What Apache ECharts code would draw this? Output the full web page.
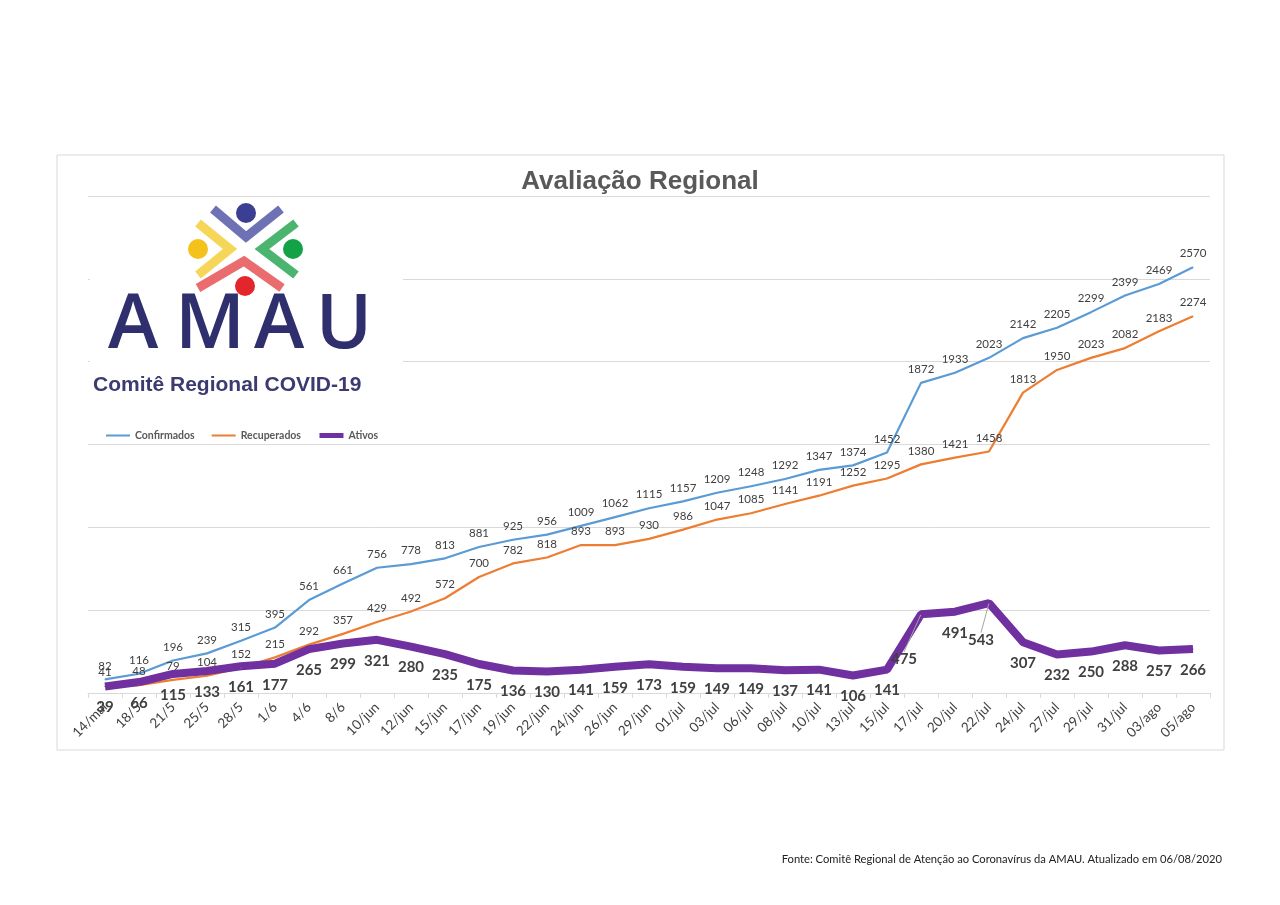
<!DOCTYPE html>
<html>
<head>
<meta charset="utf-8">
<script src="https://cdn.jsdelivr.net/npm/echarts@6/dist/echarts.min.js"></script>
<style>
  html, body { margin: 0; padding: 0; background: #fff; }
  #chart { width: 1280px; height: 905px; }
</style>
</head>
<body>
<div id="chart"></div>
<script>
var datas = ['14/mai', '18/5', '21/5', '25/5', '28/5', '1/6', '4/6', '8/6', '10/jun', '12/jun', '15/jun',
    '17/jun', '19/jun', '22/jun', '24/jun', '26/jun', '29/jun', '01/jul', '03/jul', '06/jul', '08/jul',
    '10/jul', '13/jul', '15/jul', '17/jul', '20/jul', '22/jul', '24/jul', '27/jul', '29/jul', '31/jul',
    '03/ago', '05/ago'];
var confirmados = [82, 116, 196, 239, 315, 395, 561, 661, 756, 778, 813, 881, 925, 956, 1009, 1062, 1115,
    1157, 1209, 1248, 1292, 1347, 1374, 1452, 1872, 1933, 2023, 2142, 2205, 2299, 2399, 2469, 2570];
var recuperados = [41, 48, 79, 104, 152, 215, 292, 357, 429, 492, 572, 700, 782, 818, 893, 893, 930,
    986, 1047, 1085, 1141, 1191, 1252, 1295, 1380, 1421, 1458, 1813, 1950, 2023, 2082, 2183, 2274];
var ativos = [39, 66, 115, 133, 161, 177, 265, 299, 321, 280, 235, 175, 136, 130, 141, 159, 173,
    159, 149, 149, 137, 141, 106, 141, 475, 491, 543, 307, 232, 250, 288, 257, 266];

var myChart = echarts.init(document.getElementById('chart'));

var fonte = 'Lato, "Noto Sans", sans-serif';

// logo AMAU desenhado com formas simples
function chevron(pts, cor) {
    return {
        type: 'polyline',
        shape: { points: pts },
        style: { stroke: cor, lineWidth: 9, fill: null, lineJoin: 'miter', opacity: 0.8 },
        z: 101
    };
}
function bola(x, y, cor) {
    return { type: 'circle', shape: { cx: x, cy: y, r: 10 }, style: { fill: cor }, z: 102 };
}
function letra(txt, x) {
    return {
        type: 'text', x: x, y: 364, z: 102,
        style: { text: txt, fill: '#2f2f6e', font: '600 76px "Open Sans", "Liberation Sans", sans-serif',
            textAlign: 'center', textVerticalAlign: 'bottom' }
    };
}

var logo = [
    { type: 'rect', shape: { x: 90, y: 200, width: 313, height: 202 }, style: { fill: '#fff' }, z: 100 },
    chevron([[213, 209], [246, 237], [281, 209]], '#4a4fa3'),
    chevron([[198, 223], [230, 249], [198, 275]], '#f2cc2e'),
    chevron([[296, 223], [262, 249], [296, 275]], '#1ea34c'),
    chevron([[198, 288], [244, 261], [282, 288]], '#e5474a'),
    bola(246, 213, '#3b3f94'),
    bola(198, 249, '#f4c21b'),
    bola(293, 249, '#13a246'),
    bola(245, 286, '#e3262c'),
    letra('A', 133), letra('M', 210), letra('A', 279), letra('U', 344),
    {
        type: 'text', x: 93, y: 396, z: 102,
        style: { text: 'Comitê Regional COVID-19', fill: '#3c3a70',
            font: 'bold 21px "Liberation Sans", Arial, sans-serif', textVerticalAlign: 'bottom' }
    }
];

// rótulos de 17/jul e 22/jul ficam deslocados, com linha guia
var ativosData = ativos.map(function (v, i) {
    if (i === 24 || i === 26) return { value: v, labelLine: { show: true } };
    return v;
});

var option = {
    backgroundColor: '#fff',
    animation: false,
    title: {
        text: 'Avaliação Regional',
        left: 'center',
        top: 164,
        textStyle: { fontSize: 26, fontWeight: 'bold', color: '#595959', fontFamily: '"Liberation Sans", Arial, sans-serif' }
    },
    legend: {
        left: 100,
        top: 425,
        itemWidth: 24,
        itemHeight: 12,
        itemGap: 16,
        itemStyle: { opacity: 0 },
        textStyle: { fontSize: 10.5, color: '#595959', fontWeight: 'bold', fontFamily: fonte },
        data: [
            { name: 'Confirmados', lineStyle: { width: 2 } },
            { name: 'Recuperados', lineStyle: { width: 2 } },
            { name: 'Ativos', lineStyle: { width: 5 } }
        ]
    },
    grid: { left: 88, right: 70, top: 196, bottom: 212 },
    xAxis: {
        type: 'category',
        data: datas,
        axisLine: { lineStyle: { color: '#d9d9d9' } },
        axisTick: { show: true, length: 5, lineStyle: { color: '#d9d9d9' } },
        axisLabel: { rotate: 45, color: '#404040', fontSize: 13.5, fontFamily: fonte, interval: 0, margin: 12 }
    },
    yAxis: {
        type: 'value',
        min: 0,
        max: 3000,
        interval: 500,
        axisLabel: { show: false },
        axisLine: { show: false },
        axisTick: { show: false },
        splitLine: { lineStyle: { color: '#d9d9d9' } }
    },
    graphic: [
        { type: 'rect', shape: { x: 57, y: 155, width: 1167, height: 595 }, style: { fill: null, stroke: '#d9d9d9', lineWidth: 1 }, z: -1 },
        {
            type: 'text', x: 1222, y: 859,
            style: { text: 'Fonte: Comitê Regional de Atenção ao Coronavírus da AMAU. Atualizado em 06/08/2020',
                fill: '#222', font: '11.2px ' + fonte, textAlign: 'right', textVerticalAlign: 'middle' }
        }
    ].concat(logo),
    series: [
        {
            name: 'Confirmados',
            type: 'line',
            data: confirmados,
            symbol: 'circle',
            symbolSize: 1,
            lineStyle: { color: '#5b9bd5', width: 2.2 },
            itemStyle: { color: '#5b9bd5' },
            label: { show: true, position: 'top', distance: 7, color: '#404040', fontSize: 11.5, fontFamily: fonte }
        },
        {
            name: 'Recuperados',
            type: 'line',
            data: recuperados,
            symbol: 'circle',
            symbolSize: 1,
            lineStyle: { color: '#ed7d31', width: 2.2 },
            itemStyle: { color: '#ed7d31' },
            label: { show: true, position: 'top', distance: 7, color: '#404040', fontSize: 11.5, fontFamily: fonte }
        },
        {
            name: 'Ativos',
            type: 'line',
            data: ativosData,
            symbol: 'circle',
            symbolSize: 1,
            z: 3,
            lineStyle: { color: '#7030a0', width: 8 },
            itemStyle: { color: '#7030a0' },
            label: { show: true, position: 'bottom', distance: 13, color: '#404040', fontSize: 15, fontWeight: 'bold', fontFamily: fonte },
            labelLine: { show: false, lineStyle: { color: '#a6a6a6', width: 1 } },
            labelLayout: function (p) {
                if (p.dataIndex === 24) return { dx: -17, dy: 24 };
                if (p.dataIndex === 26) return { dx: -8, dy: 16 };
                return {};
            }
        }
    ]
};

myChart.setOption(option);
</script>
</body>
</html>
